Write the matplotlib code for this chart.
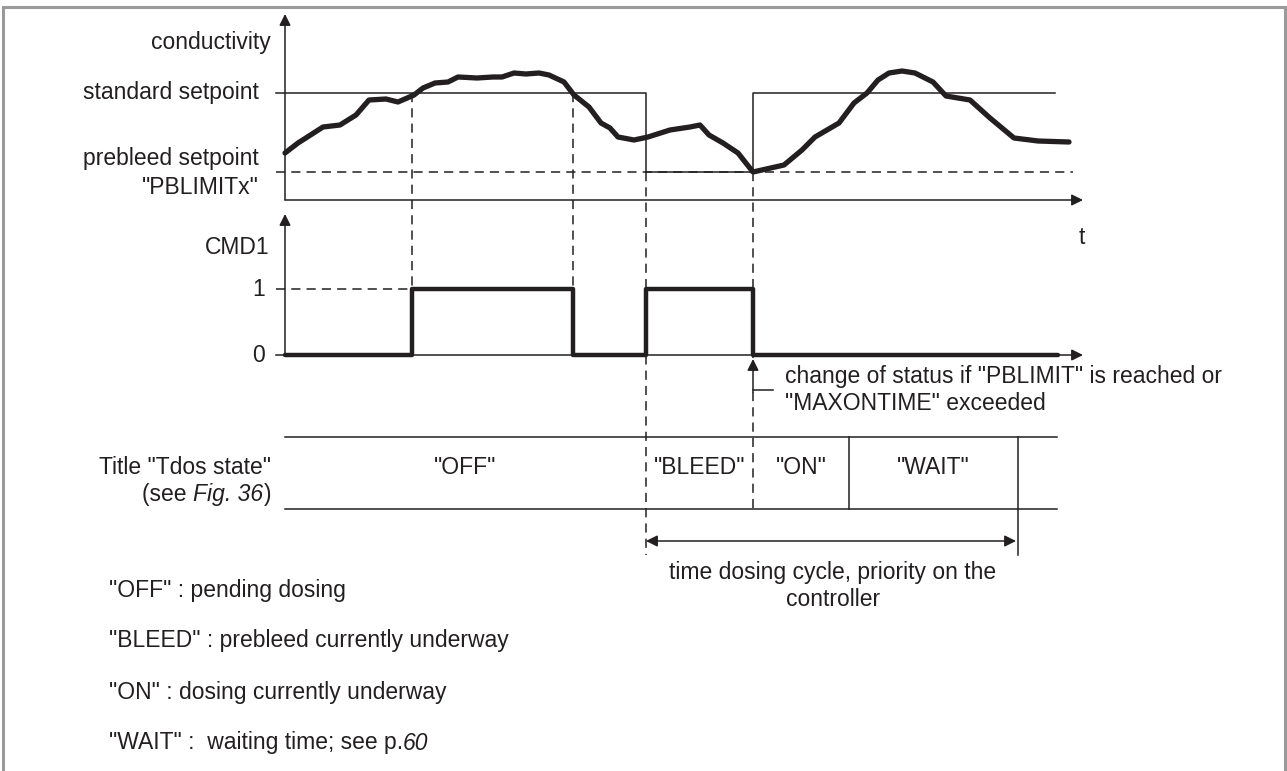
import matplotlib
matplotlib.use('Agg')
import matplotlib.pyplot as plt

plt.rcParams['font.family'] = ['Liberation Sans', 'DejaVu Sans']

# conductivity curve (time, value), drawing units
curve_t = [285, 298, 323, 340, 356, 369, 386, 398, 414, 423, 435, 448, 458, 477,
           493, 502, 514, 526, 539, 549, 564, 574, 589, 601, 610, 618, 634, 648,
           670, 690, 700, 709, 723, 738, 753, 784, 802, 815, 839, 854, 867, 878, 889,
           902, 915, 933, 946, 970, 990, 1014, 1038, 1069]
curve_y = [153, 143, 127, 125, 115, 100, 99, 102, 95, 88, 83, 82, 77, 78,
           77, 77, 73, 74, 73, 75, 82, 95, 107, 123, 128, 137, 140, 137,
           130, 127, 125, 135, 143, 153, 172, 165, 150, 137, 123, 103, 93, 80, 73,
           71, 73, 82, 96, 100, 118, 138, 141, 142]

# setpoint switching: standard setpoint except during the prebleed
setpoint_t = [276, 646, 646, 753, 753, 1055]
setpoint_y = [93, 93, 172, 172, 93, 93]
prebleed_y = 172

# CMD1 output
cmd_t = [285, 412, 573, 646, 753, 1058]
cmd_level = [0, 1, 0, 1, 0, 0]
cmd_zero, cmd_one = 355, 289

# Tdos states
state_names = ['"OFF"', '"BLEED"', '"ON"', '"WAIT"']
state_edges = [285, 646, 753, 849, 1018]
table_top, table_bot = 437, 509

legend_lines = [[('"OFF" : pending dosing', 'normal')],
                [('"BLEED" : prebleed currently underway', 'normal')],
                [('"ON" : dosing currently underway', 'normal')],
                [('"WAIT" :  waiting time; see p.', 'normal'), ('60', 'italic')]]
legend_y = [590, 641, 692, 743]

fig = plt.figure(figsize=(12.87, 7.71), dpi=100)
ax = fig.add_axes([0, 0, 1, 1])
ax.set_xlim(0, 1287)
ax.set_ylim(771, 0)
ax.axis('off')

K = '#231f20'
FS = 16.5
thin = 1.1
dash = (0, (6, 4))

# frame
ax.plot([3, 3, 1285, 1285], [771, 7, 7, 771], color='#9a9a9a', lw=2.2,
        solid_joinstyle='miter')


def arrow(x0, y0, x1, y1, style='-|>'):
    ax.annotate('', xy=(x1, y1), xytext=(x0, y0),
                arrowprops=dict(arrowstyle=style, color=K, lw=thin,
                                mutation_scale=17, shrinkA=0, shrinkB=0))


def label(x, y, txt, ha='left'):
    ax.text(x, y, txt, ha=ha, va='center', fontsize=FS, color=K)


def mixed(x, y, parts, ha='left'):
    # draw text pieces with different styles side by side
    r = fig.canvas.get_renderer()
    widths = []
    objs = []
    for s, st in parts:
        t = ax.text(0, y, s, ha='left', va='center', fontsize=FS, color=K,
                    style=st)
        widths.append(t.get_window_extent(r).width)
        objs.append(t)
    total = sum(widths)
    px0 = ax.transData.transform((x, y))[0]
    if ha == 'right':
        px0 -= total
    for t, w in zip(objs, widths):
        t.set_x(ax.transData.inverted().transform((px0, 0))[0])
        px0 += w


# axes
arrow(285, 200, 285, 14)
arrow(285, 200, 1083, 200)
arrow(285, 355, 285, 214)
arrow(285, 355, 1083, 355)

# setpoints
ax.plot(setpoint_t, setpoint_y, color=K, lw=thin)
ax.plot([276, 1073], [prebleed_y, prebleed_y], color=K, lw=thin, ls=dash)
ax.plot(curve_t, curve_y, color=K, lw=3.8, solid_capstyle='round',
        solid_joinstyle='round')

# CMD1 step
step_y = [cmd_zero + (cmd_one - cmd_zero) * lv for lv in cmd_level]
ax.step(cmd_t, step_y, where='post', color=K, lw=3.2, solid_capstyle='round')
ax.plot([276, 412], [cmd_one, cmd_one], color=K, lw=thin, ls=dash)
ax.plot([276, 285], [cmd_zero, cmd_zero], color=K, lw=thin)

# dashed guide lines
ax.plot([412, 412], [93, 355], color=K, lw=thin, ls=dash)
ax.plot([573, 573], [93, 355], color=K, lw=thin, ls=dash)
ax.plot([646, 646], [172, 555], color=K, lw=thin, ls=dash)
ax.plot([753, 753], [172, 358], color=K, lw=thin, ls=dash)
ax.plot([753, 753], [392, 510], color=K, lw=thin, ls=dash)

# labels left
label(271, 42, 'conductivity', 'right')
label(259, 93, 'standard setpoint', 'right')
label(259, 158, 'prebleed setpoint', 'right')
label(259, 187, '"PBLIMITx"', 'right')
label(1082, 238, 't', 'center')
label(270, 247, 'CMD1', 'right')
label(265, 289, '1', 'right')
label(265, 356, '0', 'right')

# change of status note
arrow(753, 392, 753, 359)
ax.plot([753, 773], [390, 390], color=K, lw=thin)
label(785, 377, 'change of status if "PBLIMIT" is reached or')
label(785, 403, '"MAXONTIME" exceeded')

# state table
ax.plot([285, 1057], [table_top, table_top], color=K, lw=thin)
ax.plot([285, 1057], [table_bot, table_bot], color=K, lw=thin)
ax.plot([state_edges[3]] * 2, [table_top, table_bot], color=K, lw=thin)
ax.plot([state_edges[4]] * 2, [table_top, 555], color=K, lw=thin)
for i, name in enumerate(state_names):
    xc = (state_edges[i] + state_edges[i + 1]) / 2
    label(xc, 468, name, 'center')
label(271, 467, 'Title "Tdos state"', 'right')
mixed(271, 495, [('(see ', 'normal'), ('Fig. 36', 'italic'), (')', 'normal')],
      ha='right')

# dosing cycle
arrow(646, 541, 1016, 541, style='<|-|>')
label(833, 572, 'time dosing cycle, priority on the', 'center')
label(833, 600, 'controller', 'center')

for parts, y in zip(legend_lines, legend_y):
    mixed(109, y, parts)

fig.savefig('out.png', dpi=100)
